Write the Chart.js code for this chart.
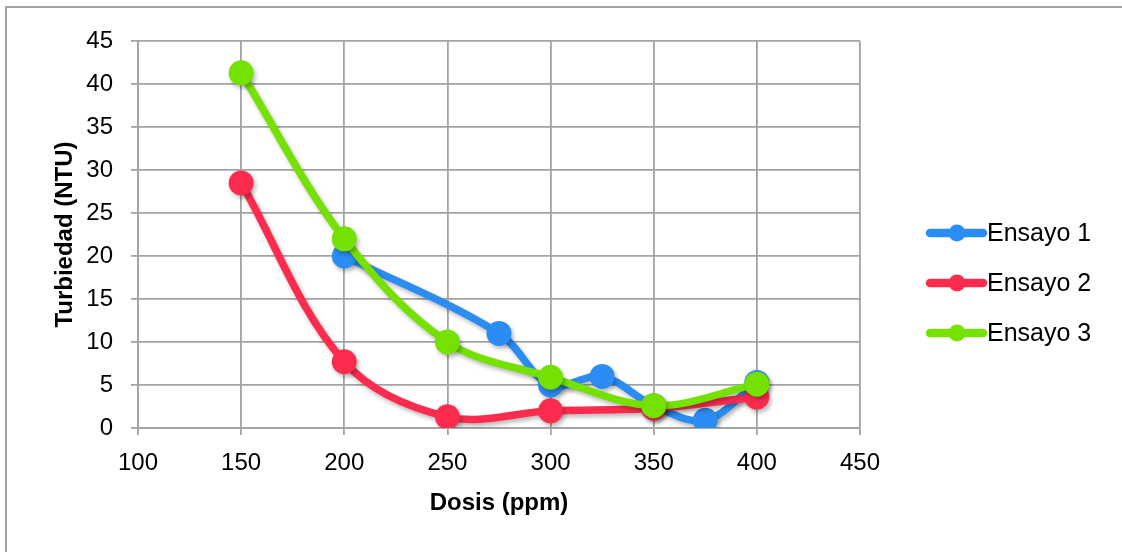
<!DOCTYPE html>
<html>
<head>
<meta charset="utf-8">
<script src="https://cdn.jsdelivr.net/npm/chart.js@4"></script>
<style>
  html, body { margin: 0; padding: 0; background: #fff; }
  #wrap { position: relative; width: 1122px; height: 552px; overflow: hidden; }
  #frame { position: absolute; left: 5px; top: 6px; width: 1200px; height: 600px;
           border-top: 2px solid #a3a3a3; border-left: 2px solid #a3a3a3; }
  canvas { position: absolute; left: 0; top: 0; }
</style>
</head>
<body>
<div id="wrap">
  <div id="frame"></div>
  <canvas id="chartTurb" width="1122" height="552"></canvas>
</div>
<script>
const seriesNames = ['Ensayo 1', 'Ensayo 2', 'Ensayo 3']
const seriesColors = ['#2b8cf3', '#fd2c4f', '#74e100']

const dosis1 = [200, 275, 300, 325, 350, 375, 400]
const turb1 = [20.0, 11.0, 5.0, 6.0, 2.6, 0.9, 5.3]

const dosis2 = [150, 200, 250, 300, 350, 400]
const turb2 = [28.5, 7.7, 1.3, 2.0, 2.3, 3.6]

const dosis3 = [150, 200, 250, 300, 350, 400]
const turb3 = [41.3, 22.0, 10.0, 5.9, 2.6, 5.1]

const gridColor = '#a3a3a3'
const fontName = "'Liberation Sans', Arial, sans-serif"

function toPoints(xs, ys) {
    return xs.map((x, i) => ({ x: x, y: ys[i] }))
}

function makeSet(i, xs, ys, order) {
    return {
        label: seriesNames[i],
        data: toPoints(xs, ys),
        borderColor: seriesColors[i],
        backgroundColor: seriesColors[i],
        borderWidth: 7.5,
        pointRadius: 12.5,
        pointBorderWidth: 0,
        pointHoverRadius: 12.5,
        tension: 0.35,
        order: order
    }
}

// soft drop shadow under lines and markers
const shadowPlugin = {
    id: 'shadow',
    beforeDatasetsDraw(chart) {
        const c = chart.ctx
        c.save()
        c.shadowColor = 'rgba(0,0,0,0.28)'
        c.shadowBlur = 4
        c.shadowOffsetX = 2
        c.shadowOffsetY = 3
    },
    afterDatasetsDraw(chart) {
        chart.ctx.restore()
    }
}

// legend drawn at the right, line with a dot
const legendPlugin = {
    id: 'sideLegend',
    afterDraw(chart) {
        const c = chart.ctx
        c.save()
        c.font = '25px ' + fontName
        c.textBaseline = 'middle'
        seriesNames.forEach((name, i) => {
            const y = 233 + i * 50
            c.strokeStyle = seriesColors[i]
            c.fillStyle = seriesColors[i]
            c.lineWidth = 8.5
            c.lineCap = 'round'
            c.beginPath()
            c.moveTo(930, y)
            c.lineTo(983, y)
            c.stroke()
            c.beginPath()
            c.arc(957, y, 8.5, 0, Math.PI * 2)
            c.fill()
            c.fillStyle = '#000'
            c.fillText(name, 987, y + 1)
        })
        c.restore()
    }
}

new Chart(document.getElementById('chartTurb'), {
    type: 'line',
    data: {
        datasets: [
            makeSet(0, dosis1, turb1, 3),
            makeSet(1, dosis2, turb2, 2),
            makeSet(2, dosis3, turb3, 1)
        ]
    },
    options: {
        responsive: false,
        animation: false,
        layout: { padding: { top: 41, right: 262, left: 0, bottom: 0 } },
        plugins: {
            legend: { display: false },
            tooltip: { enabled: false }
        },
        scales: {
            x: {
                type: 'linear',
                min: 100,
                max: 450,
                ticks: { stepSize: 50, color: '#000', padding: 14, font: { family: fontName, size: 24 } },
                grid: { color: gridColor, lineWidth: 1.8, tickLength: 7, tickColor: gridColor },
                border: { color: gridColor, width: 1.8 },
                title: { display: true, text: 'Dosis (ppm)', color: '#000',
                         font: { family: fontName, size: 24, weight: 'bold' }, padding: { bottom: 34 } },
                afterFit(scale) { scale.height = 124 }
            },
            y: {
                min: 0,
                max: 45,
                ticks: { stepSize: 5, color: '#000', padding: 18, font: { family: fontName, size: 24 } },
                grid: { color: gridColor, lineWidth: 1.8, tickLength: 7, tickColor: gridColor },
                border: { color: gridColor, width: 1.8 },
                title: { display: true, text: 'Turbiedad (NTU)', color: '#000',
                         font: { family: fontName, size: 24, weight: 'bold' }, padding: { top: 51 } },
                afterFit(scale) { scale.width = 138 }
            }
        }
    },
    plugins: [shadowPlugin, legendPlugin]
})
</script>
</body>
</html>
